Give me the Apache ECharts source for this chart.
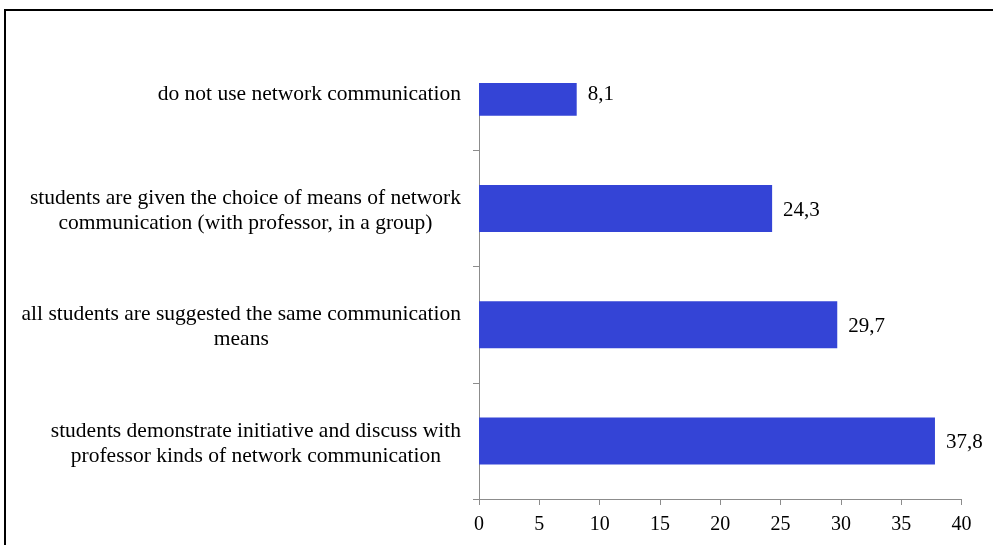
<!DOCTYPE html>
<html><head><meta charset="utf-8">
<script src="https://cdn.jsdelivr.net/npm/echarts@6/dist/echarts.min.js"></script>
<style>html,body{margin:0;padding:0;background:#fff}#c{width:993px;height:545px}</style>
</head><body><div id="c"></div>
<script>
const categories = [
  ["do not use network communication"],
  ["students are given the choice of means of network", "communication (with professor, in a group)"],
  ["all students are suggested the same communication", "means"],
  ["students demonstrate initiative and discuss with", "professor kinds of network communication"]
];
const values = [8.1, 24.3, 29.7, 37.8];
const xTicks = [0, 5, 10, 15, 20, 25, 30, 35, 40];

const font = '"Liberation Serif", "Times New Roman", serif';
const chart = echarts.init(document.getElementById('c'), null, {renderer: 'canvas'});
chart.setOption({
  animation: false,
  backgroundColor: '#fff',
  grid: {left: 479, right: 31.5, top: 34, bottom: 46},
  xAxis: {
    type: 'value', min: xTicks[0], max: xTicks[xTicks.length - 1], interval: 5,
    splitLine: {show: false},
    axisLine: {show: true, lineStyle: {color: '#8c8c8c', width: 1}},
    axisTick: {show: true, length: 6, lineStyle: {color: '#8c8c8c'}},
    axisLabel: {fontFamily: font, fontSize: 20, color: '#000', margin: 16}
  },
  yAxis: {
    type: 'category', inverse: true,
    data: categories.map(c => c.join('\n')),
    axisLine: {show: true, lineStyle: {color: '#8c8c8c', width: 1}},
    axisTick: {show: true, length: 6, lineStyle: {color: '#8c8c8c'}},
    axisLabel: {
      fontFamily: font, fontSize: 21.5, color: '#000', margin: 18, lineHeight: 25,
      align: 'right', padding: [5, 0, 0, 0],
      formatter: v => v.split('\n').map(s => '{c|' + s + '}').join('\n'),
      rich: {c: {fontFamily: font, fontSize: 21.5, color: '#000', lineHeight: 25, align: 'center'}}
    }
  },
  series: [{
    type: 'bar',
    data: values,
    barWidth: 47,
    itemStyle: {color: '#3444d6'},
    label: {
      show: true, position: 'right', distance: 11, offset: [0, 2],
      fontFamily: font, fontSize: 21, color: '#000',
      formatter: p => String(p.value).replace('.', ',')
    }
  }],
  graphic: [
    {type: 'rect', z: 100, shape: {x: 470, y: 20, width: 140, height: 63}, style: {fill: '#fff'}},
    {type: 'rect', z: 101, shape: {x: 5, y: 10, width: 1100, height: 700}, style: {fill: 'none', stroke: '#000', lineWidth: 2}}
  ]
});
</script></body></html>
